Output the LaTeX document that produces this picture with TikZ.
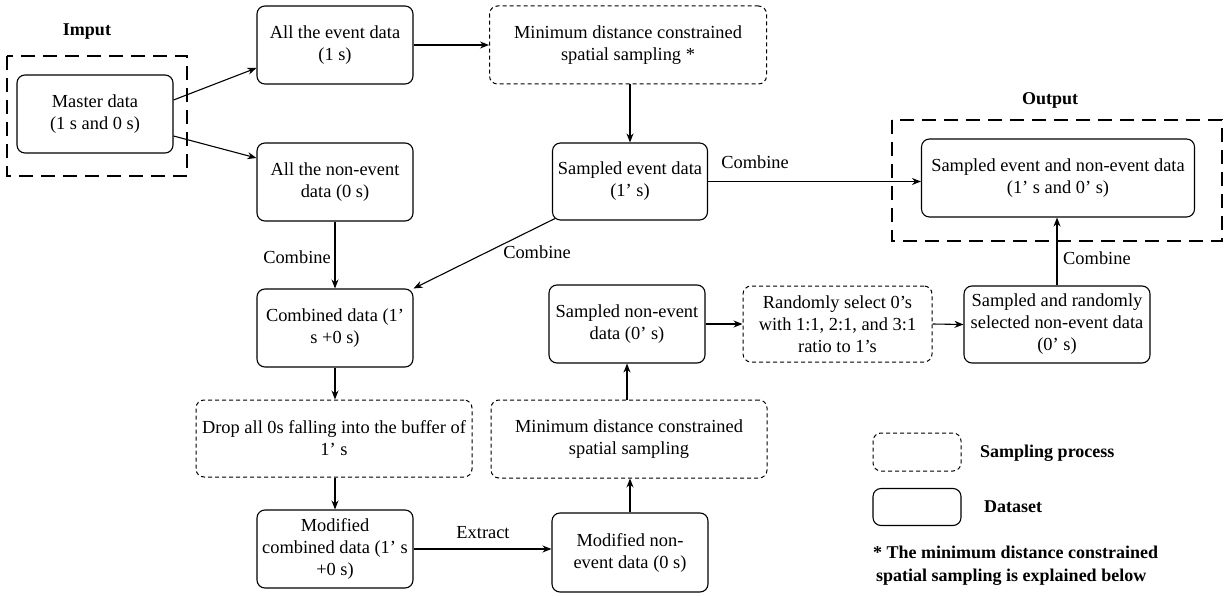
\documentclass[tikz,border=0pt]{standalone}
\usepackage{fontspec}
\setmainfont{Liberation Serif}
\usetikzlibrary{arrows.meta}
\begin{document}
\begin{tikzpicture}[x=1pt,y=-1pt,
  every node/.style={font=\fontsize{18.4}{22}\selectfont, align=center, inner sep=0pt},
  databox/.style={draw, rounded corners=8pt, line width=1.1pt, minimum width=156pt, minimum height=78pt},
  procbox/.style={draw, dashed, dash pattern=on 4pt off 3pt, rounded corners=8pt, line width=1pt, minimum height=78pt},
  groupbox/.style={draw, line width=2.2pt, dash pattern=on 14pt off 8pt},
  arr/.style={-{Stealth[length=9pt,width=7pt]}, line width=1.1pt},
  lbl/.style={font=\fontsize{18.4}{20}\selectfont},
  bold/.style={font=\fontsize{18}{23}\selectfont\bfseries, align=left}
]
\useasboundingbox (0,0) rectangle (1225,596);

% group boxes
\draw[groupbox] (7,56) rectangle (187,176);
\node[bold] (inlbl) at (87,32) {Imput};
\draw[groupbox] (892,120) rectangle (1222,241);
\node[bold] (outlbl) at (1050,100) {Output};

% nodes
\node[databox] (master) at (95,114) {Master data\\(1 s and 0 s)};
\node[databox] (event) at (335,45) {All the event data\\(1 s)};
\node[databox] (nonevent) at (335,182) {All the non-event\\data (0 s)};
\node[procbox, minimum width=277pt] (mdcs1) at (628,45) {Minimum distance constrained\\spatial sampling *};
\node[databox, minimum width=155pt, minimum height=77pt] (sevent) at (630,181.5) {Sampled event data\\(1’ s)};
\node[databox, minimum width=273pt] (out) at (1058,178) {Sampled event and non-event data\\(1’ s and 0’ s)};
\node[databox] (comb) at (335,328) {Combined data (1’\\s +0 s)};
\node[procbox, minimum width=276pt, minimum height=77pt] (drop) at (334,438.5) {Drop all 0s falling into the buffer of\\1’ s};
\node[databox] (modcomb) at (335,549) {Modified\\combined data (1’ s\\+0 s)};
\node[databox, minimum height=79pt] (modnon) at (630,552.5) {Modified non-\\event data (0 s)};
\node[procbox, minimum width=276pt] (mdcs2) at (629,439) {Minimum distance constrained\\spatial sampling};
\node[databox] (snon) at (627,324) {Sampled non-event\\data (0’ s)};
\node[procbox, minimum width=189pt, minimum height=76pt] (rand) at (837.5,324) {Randomly select 0’s\\with 1:1, 2:1, and 3:1\\ratio to 1’s};
\node[databox, minimum width=186pt, minimum height=77pt] (srand) at (1057,324.5) {Sampled and randomly\\selected non-event data\\(0’ s)};

% connectors
\draw[arr] (master.east |- 0,100) -- (event.west |- 0,68);
\draw[arr] (master.east |- 0,136) -- (nonevent.west |- 0,158);
\draw[arr] (event.east) -- (mdcs1.west);
\draw[arr] (mdcs1.south -| sevent.north) -- (sevent.north);
\draw[arr] (sevent.east) -- (out.west |- sevent.east);
\node[lbl] (c1) at (755,162) {Combine};
\draw[arr] (nonevent.south) -- (comb.north);
\node[lbl] (c2) at (297,257) {Combine};
\path (sevent.south west) ++(3,-2) coordinate (sesw);
\draw[arr] (sesw) -- (comb.north east);
\node[lbl] (c3) at (537,252) {Combine};
\draw[arr] (comb.south) -- (drop.north -| comb.south);
\draw[arr] (drop.south -| modcomb.north) -- (modcomb.north);
\draw[arr] (modcomb.east) -- (modnon.west |- modcomb.east);
\node[lbl] (c4) at (483,533) {Extract};
\draw[arr] (modnon.north) -- (mdcs2.south -| modnon.north);
\draw[arr] (mdcs2.north -| snon.south) -- (snon.south);
\draw[arr] (snon.east) -- (rand.west);
\draw[arr] (rand.east) -- (srand.west);
\draw[arr] (srand.north) -- (out.south -| srand.north);
\node[lbl, anchor=west] (c5) at (1063,258) {Combine};

% legend
\node[procbox, minimum width=88pt, minimum height=38pt] (lgp) at (917,452) {};
\node[bold, anchor=west] (lgpt) at (980,453) {Sampling process};
\node[databox, minimum width=88pt, minimum height=37pt] (lgd) at (917,507) {};
\node[bold, anchor=west] (lgdt) at (984,507) {Dataset};
\node[bold, anchor=west] (note) at (873,566) {* The minimum distance constrained\\\hspace*{3pt}spatial sampling is explained below};
\end{tikzpicture}
\end{document}
